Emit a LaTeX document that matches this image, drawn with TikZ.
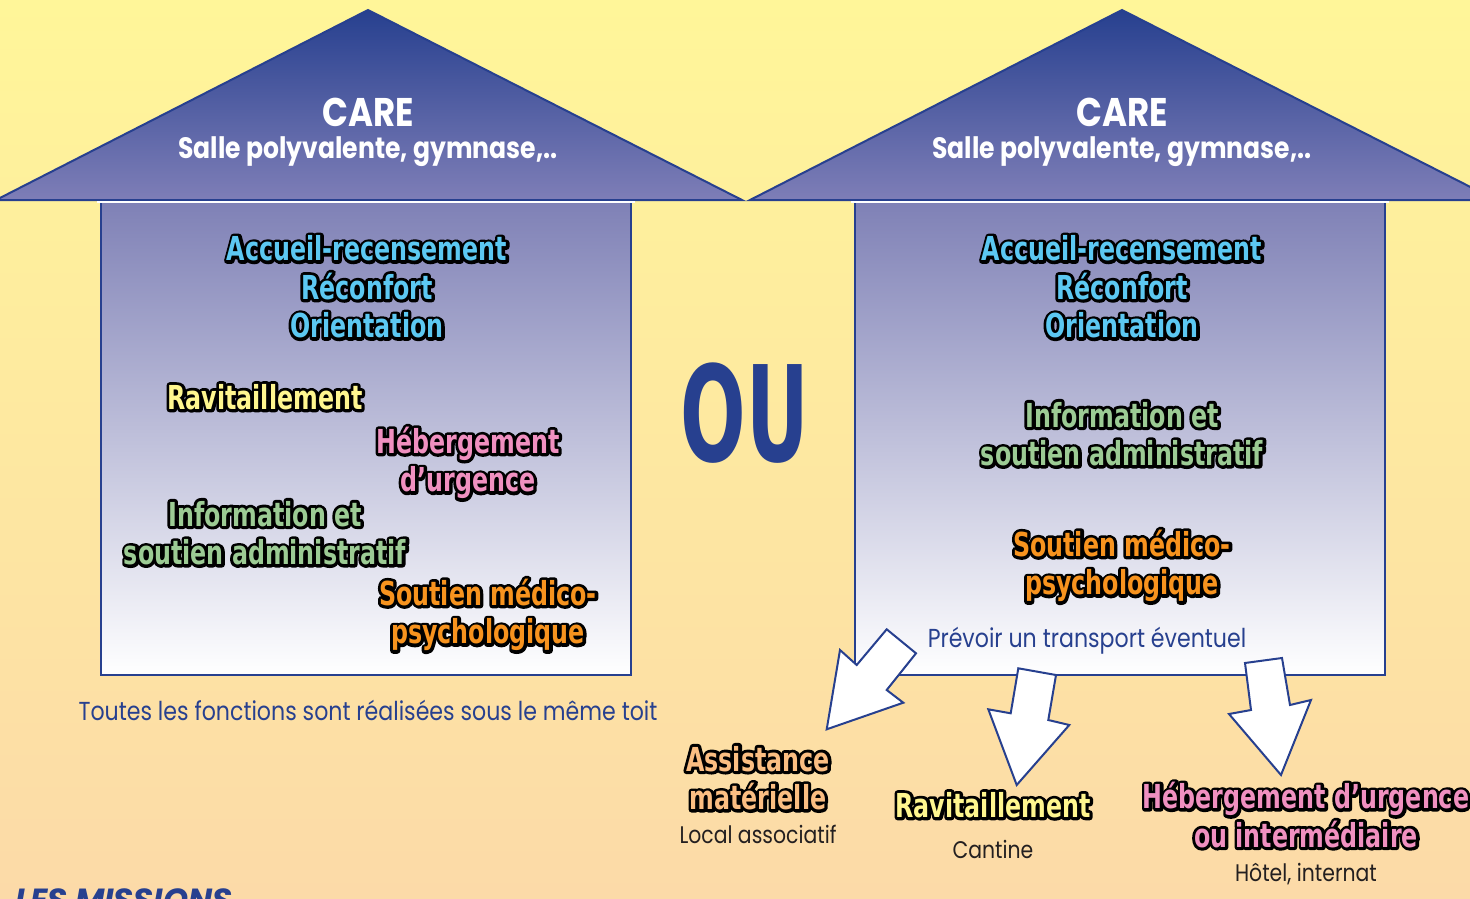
\documentclass[tikz,border=0pt]{standalone}
\usepackage{fontspec}
\usepackage{xcolor}
\usetikzlibrary{positioning}
\setmainfont{Poppins}
\newfontfamily\futura[FakeStretch=0.85]{Poppins}
\newfontfamily\impfont[FakeStretch=0.72]{DejaVu Sans Bold}
\newfontfamily\oufont[FakeStretch=0.58]{DejaVu Sans Bold}

\definecolor{navy}{HTML}{27408F}
\definecolor{roofbot}{HTML}{7E7EB7}
\definecolor{boxtop}{HTML}{7F81B6}
\definecolor{bgtop}{HTML}{FFF699}
\definecolor{bgbot}{HTML}{FCDAA8}
\definecolor{inkblack}{HTML}{231F20}
\definecolor{skyc}{HTML}{5CC8F2}
\definecolor{lemon}{HTML}{FFF68F}
\definecolor{rose}{HTML}{F090C0}
\definecolor{sage}{HTML}{9CCB94}
\definecolor{tang}{HTML}{F7931E}
\definecolor{apricot}{HTML}{FBBE82}

% outlined label: black halo first, coloured text on top
\newcommand{\fancylabel}[4]{%
	\node[mission, halo] (#1-h) at #2 {#4};
	\node[mission, text=#3] (#1) at #2 {#4};
}

\begin{document}
\begin{tikzpicture}[x=1pt,y=-1pt]
\tikzstyle{mission} = [
	align=center,
	inner sep=0pt,
	font=\impfont\fontsize{33}{38.5}\selectfont
];
\tikzstyle{halo} = [
	text=black,
	execute at begin node={\special{pdf:literal direct 0 G 1 j 6 w 2 Tr}},
	execute at end node={\special{pdf:literal direct 0 Tr}}
];
\tikzstyle{roof} = [
	top color=navy, bottom color=roofbot,
	draw=navy, line width=2pt, line join=miter
];
\tikzstyle{hall} = [
	top color=boxtop, middle color=white, bottom color=white
];
\tikzstyle{bigarrow} = [
	fill=white, draw=navy, line width=2pt, line join=miter
];
\tikzstyle{caption} = [
	inner sep=0pt, text=inkblack,
	font=\futura\fontsize{24}{28}\selectfont
];
\tikzstyle{note} = [
	inner sep=0pt, text=navy,
	font=\futura\fontsize{26}{30}\selectfont
];
\tikzstyle{place} = [
	inner sep=0pt, text=white
];

\useasboundingbox (0,0) rectangle (1470,899);
\fill[top color=bgtop, bottom color=bgbot] (0,0) rectangle (1470,899);

%left house
\begin{scope}
	\path[roof] (-4,200) -- (368,10) -- (742,200) -- cycle;
	\fill[hall] (101,202) rectangle (631,675);
	\draw[navy, line width=2pt] (101,202) -- (101,675) -- (631,675) -- (631,202);
	\draw[white, line width=2.5pt] (97,202) -- (635,202);
	\node[place, font=\futura\bfseries\fontsize{40}{42}\selectfont] (careL) at (368,112) {CARE};
	\node[place, font=\futura\bfseries\fontsize{29.5}{32}\selectfont] (salleL) at (368,152) {Salle polyvalente, gymnase,..};
\end{scope}

%right house
\begin{scope}[shift={(754,0)}]
	\path[roof] (-4,200) -- (368,10) -- (742,200) -- cycle;
	\fill[hall] (101,202) rectangle (631,675);
	\draw[navy, line width=2pt] (101,202) -- (101,675) -- (631,675) -- (631,202);
	\draw[white, line width=2.5pt] (97,202) -- (635,202);
	\node[place, font=\futura\bfseries\fontsize{40}{42}\selectfont] (careR) at (368,112) {CARE};
	\node[place, font=\futura\bfseries\fontsize{29.5}{32}\selectfont] (salleR) at (368,152) {Salle polyvalente, gymnase,..};
\end{scope}

%all under one roof
\fancylabel{accL}{(367,287)}{skyc}{Accueil-recensement\\Réconfort\\Orientation}
\fancylabel{ravL}{(265,397)}{lemon}{Ravitaillement}
\fancylabel{hebL}{(468,463)}{rose}{Hébergement\\d’urgence}
\fancylabel{infoL}{(265,533)}{sage}{Information et\\soutien administratif}
\fancylabel{soutL}{(488,615)}{tang}{Soutien médico-\\psychologique}
\node[note] (toit) at (368,710) {Toutes les fonctions sont réalisées sous le même toit};

\node[text=navy, inner sep=0pt, font=\oufont\fontsize{133}{133}\selectfont] (ou) at (745,413) {OU};

%split between places
\fancylabel{accR}{(1122,287)}{skyc}{Accueil-recensement\\Réconfort\\Orientation}
\fancylabel{infoR}{(1122,434)}{sage}{Information et\\soutien administratif}
\fancylabel{soutR}{(1122,566)}{tang}{Soutien médico-\\psychologique}
\node[note] (transport) at (1087,641) {Prévoir un transport éventuel};

%arrows out of the box
\path[bigarrow] (826.7,729.3) -- (840,650) -- (856.7,665) -- (886.7,629.3)
	-- (916,653.3) -- (886.7,690) -- (903.3,702.7) -- cycle;
\path[bigarrow] (1018.3,668.3) -- (1056,675) -- (1048.3,720) -- (1069.3,725)
	-- (1016.7,785) -- (988.3,709.3) -- (1010.7,713.3) -- cycle;
\path[bigarrow] (1245,663) -- (1282,658) -- (1290,705) -- (1311,700)
	-- (1281,775) -- (1229,714) -- (1251,710) -- cycle;

%other places
\fancylabel{assist}{(758,778)}{apricot}{Assistance\\matérielle}
\node[caption, below=15pt of assist] (local) {Local associatif};
\fancylabel{ravR}{(993,805)}{lemon}{Ravitaillement}
\node[caption, below=22pt of ravR] (cantine) {Cantine};
\fancylabel{hebR}{(1306,815)}{rose}{Hébergement d’urgence\\ou intermédiaire}
\node[caption, below=15pt of hebR] (hotel) {Hôtel, internat};

\node[anchor=base west, inner sep=0pt, text=navy, font=\normalfont\bfseries\itshape\fontsize{32}{34}\selectfont] (missions) at (15,911) {LES MISSIONS};
\end{tikzpicture}
\end{document}
